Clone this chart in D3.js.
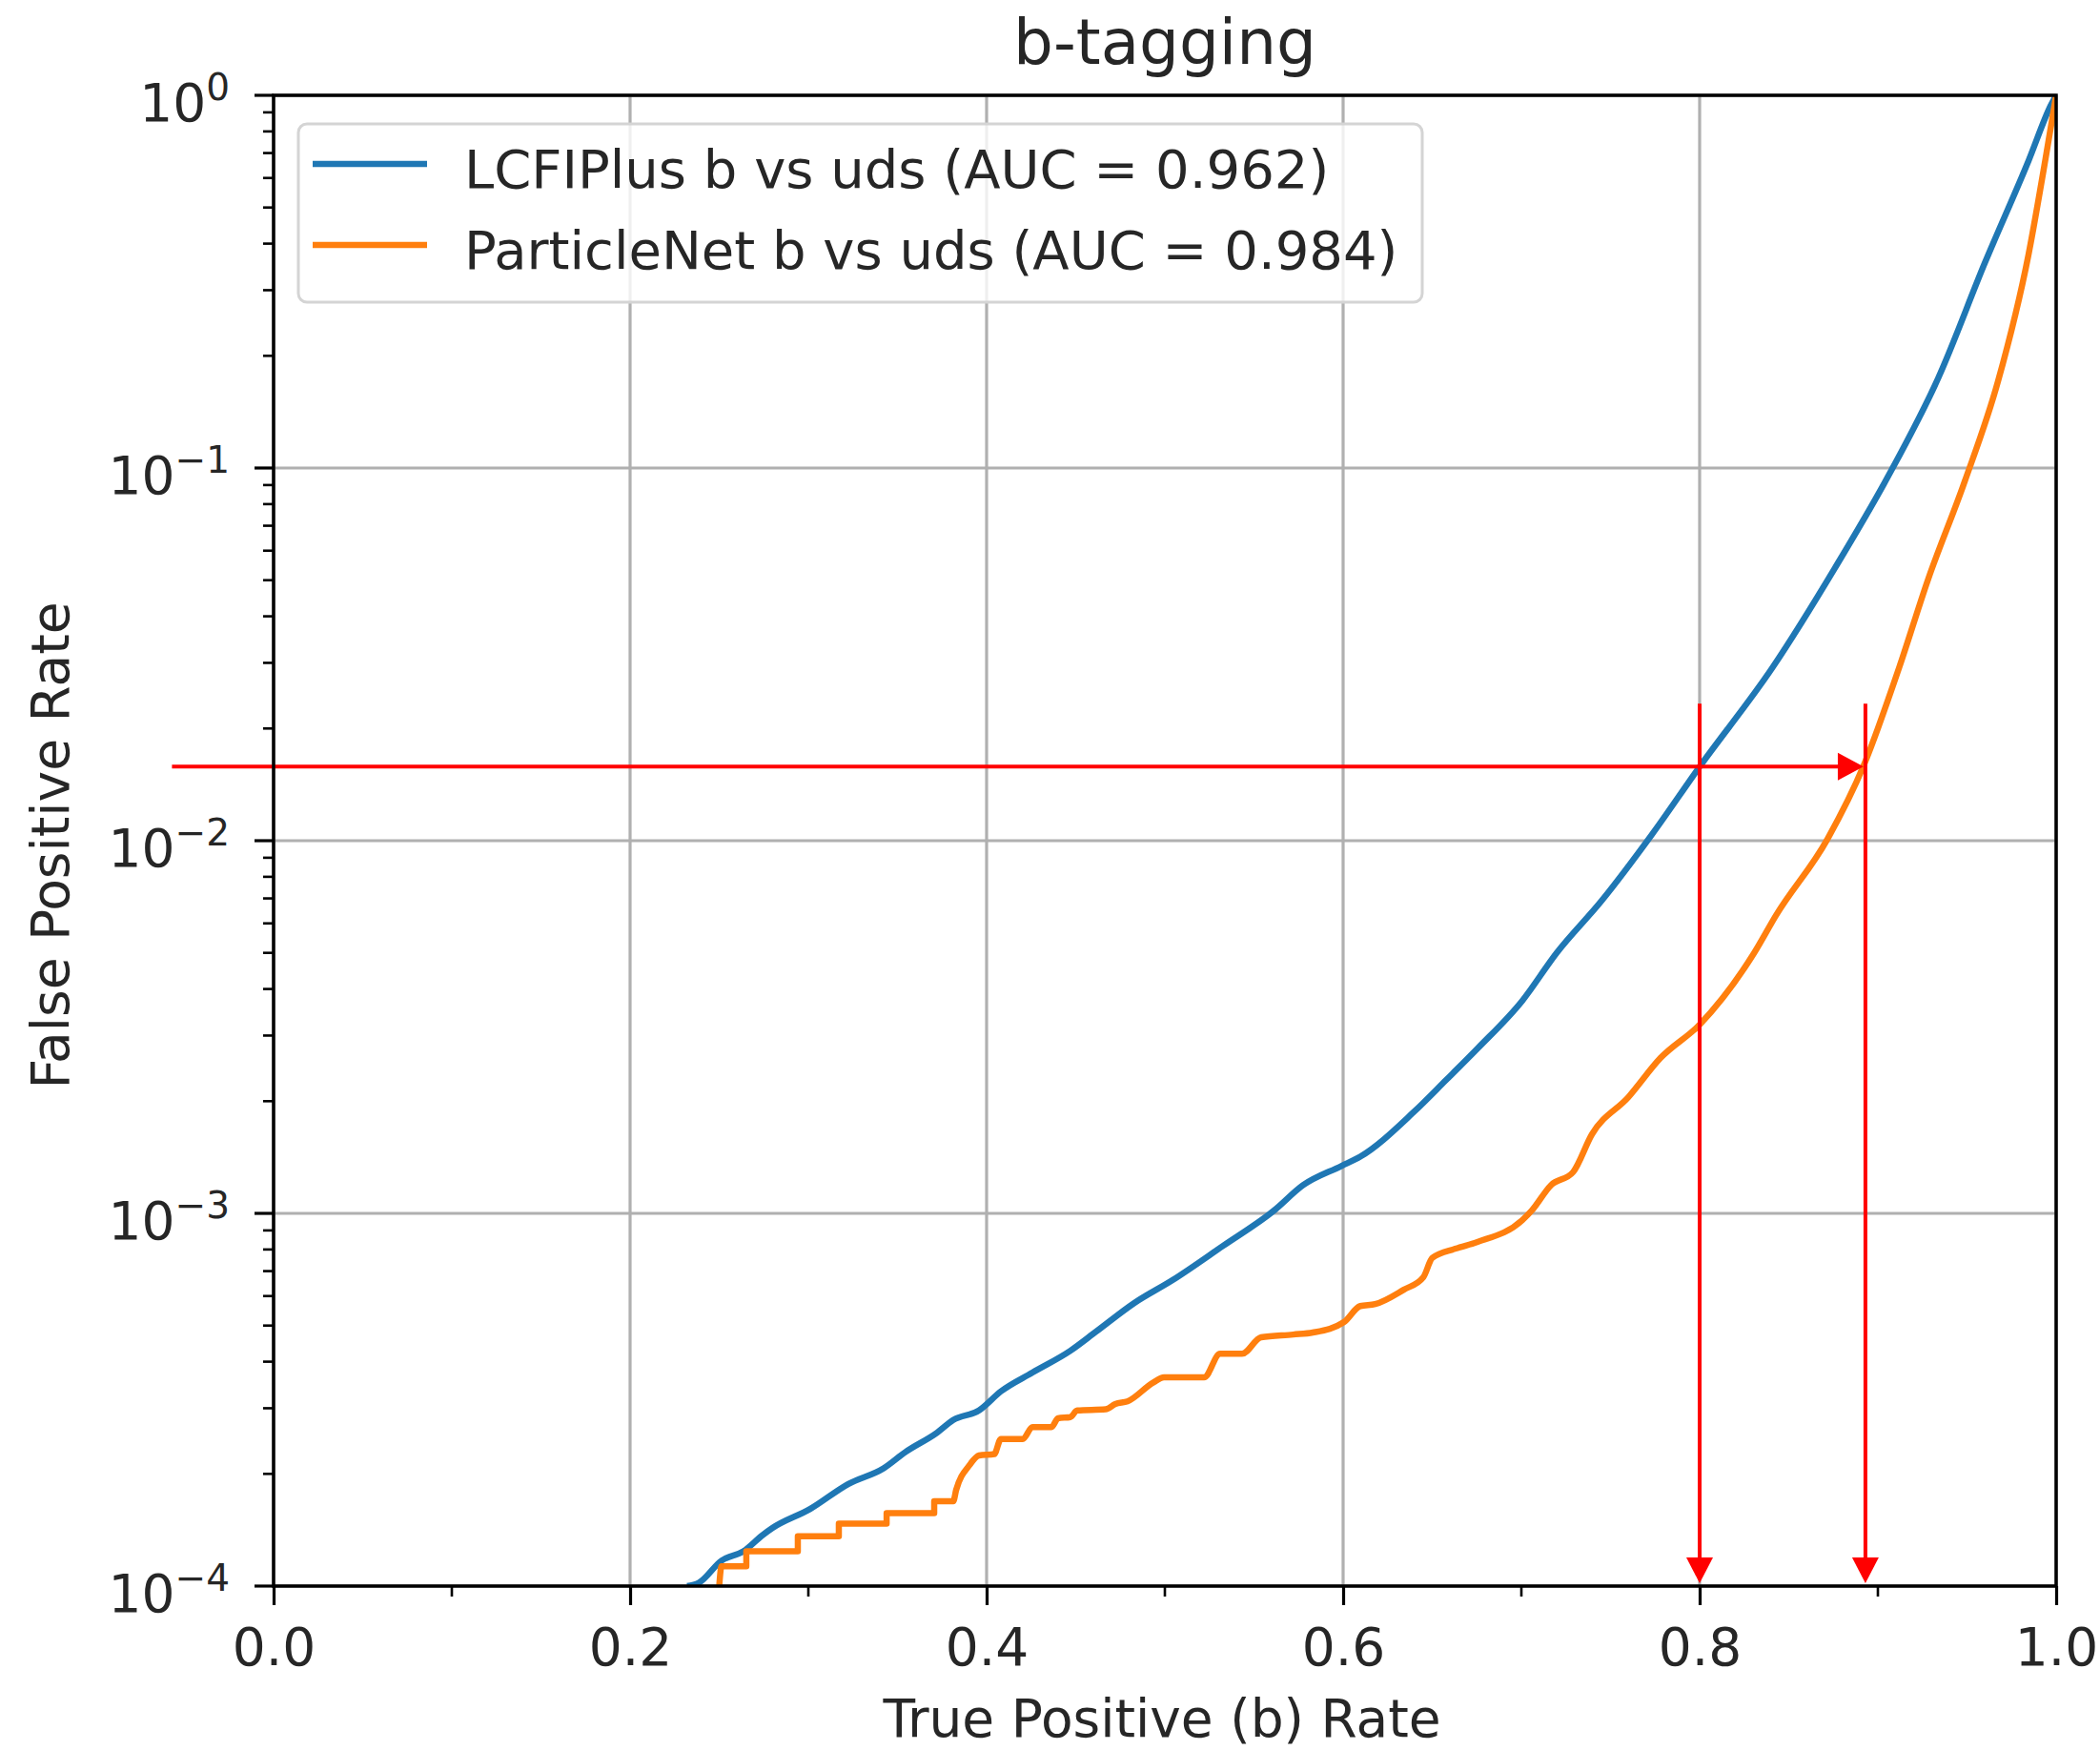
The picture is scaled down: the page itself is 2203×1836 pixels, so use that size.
<!DOCTYPE html>
<html>
<head>
<meta charset="utf-8">
<script src="https://cdn.jsdelivr.net/npm/d3@7"></script>
<style>
  html, body { margin: 0; padding: 0; background: #ffffff; }
  svg { display: block; }
  text { font-family: "DejaVu Sans", sans-serif; fill: #262626; }
</style>
</head>
<body>
<svg id="chart" width="2203" height="1836"></svg>
<script>
// ROC curves: true positive (b) rate vs. false positive rate
const tprLCFI = [0.232, 0.2385, 0.2513, 0.2636, 0.2743, 0.2797, 0.301, 0.3225, 0.3422, 0.3545,
  0.3722, 0.3813, 0.3957, 0.408, 0.4257, 0.447, 0.4615, 0.4829, 0.5043, 0.5326,
  0.5615, 0.5775, 0.599, 0.6096, 0.6396, 0.6578, 0.6754, 0.7005, 0.7198, 0.745,
  0.7733, 0.8, 0.841, 0.876, 0.906, 0.934, 0.960, 0.9845, 0.997, 1.0];
const fprLCFI = [1.0e-4, 1.02e-4, 1.17e-4, 1.24e-4, 1.37e-4, 1.43e-4, 1.61e-4, 1.88e-4, 2.07e-4, 2.29e-4,
  2.58e-4, 2.79e-4, 2.96e-4, 3.33e-4, 3.74e-4, 4.28e-4, 4.82e-4, 5.75e-4, 6.62e-4, 8.18e-4,
  1.02e-3, 1.19e-3, 1.34e-3, 1.42e-3, 1.87e-3, 2.28e-3, 2.77e-3, 3.72e-3, 5.0e-3, 6.9e-3,
  1.04e-2, 1.58e-2, 2.92e-2, 5.4e-2, 9.55e-2, 0.175, 0.355, 0.667, 0.94, 1.0];

const tprPNet = [0.250, 0.2513, 0.2652, 0.2652, 0.2941, 0.2941, 0.3171, 0.3171, 0.3439, 0.3439,
  0.3706, 0.3706, 0.3813, 0.3829, 0.3904, 0.3957, 0.4043, 0.408, 0.4203, 0.4257,
  0.4364, 0.4401, 0.447, 0.4508, 0.4668, 0.4722, 0.479, 0.4936, 0.4995, 0.522,
  0.531, 0.5433, 0.554, 0.572, 0.583, 0.6005, 0.6096, 0.618, 0.634, 0.645,
  0.650, 0.663, 0.675, 0.7005, 0.706, 0.7166, 0.729, 0.7396, 0.76, 0.778,
  0.8, 0.8305, 0.843, 0.8717, 0.892, 0.912, 0.928, 0.9487, 0.9674, 0.9845,
  0.994, 1.0];
const fprPNet = [1.0e-4, 1.13e-4, 1.13e-4, 1.24e-4, 1.24e-4, 1.36e-4, 1.36e-4, 1.47e-4, 1.47e-4, 1.57e-4,
  1.57e-4, 1.69e-4, 1.69e-4, 1.81e-4, 2.11e-4, 2.24e-4, 2.26e-4, 2.48e-4, 2.48e-4, 2.67e-4,
  2.67e-4, 2.82e-4, 2.84e-4, 2.96e-4, 2.98e-4, 3.08e-4, 3.13e-4, 3.52e-4, 3.63e-4, 3.63e-4,
  4.2e-4, 4.2e-4, 4.65e-4, 4.73e-4, 4.79e-4, 5.11e-4, 5.64e-4, 5.71e-4, 6.24e-4, 6.74e-4,
  7.59e-4, 8.04e-4, 8.37e-4, 9.59e-4, 1.02e-3, 1.19e-3, 1.29e-3, 1.63e-3, 2.05e-3, 2.61e-3,
  3.21e-3, 4.99e-3, 6.32e-3, 1.01e-2, 1.59e-2, 2.92e-2, 5.0e-2, 0.092, 0.171, 0.374,
  0.674, 1.0];

const seriesNames = ["LCFIPlus b vs uds (AUC = 0.962)", "ParticleNet b vs uds (AUC = 0.984)"];
const seriesColors = ["#1f77b4", "#ff7f0e"];

const xTickValues = [0.0, 0.2, 0.4, 0.6, 0.8, 1.0];
const xTickLabels = ["0.0", "0.2", "0.4", "0.6", "0.8", "1.0"];
const xMinorTicks = [0.1, 0.3, 0.5, 0.7, 0.9];
const yTickExponents = [0, -1, -2, -3, -4];

// working point: equal mistag rate, LCFIPlus at 80% efficiency
const workingFPR = 0.0158;
const workingTPR = [0.8, 0.893];
const arrowTopFPR = 0.0233;
const arrowStartTPR = -0.057;

const titleText = "b-tagging";
const xLabel = "True Positive (b) Rate";
const yLabel = "False Positive Rate";

// ---- layout ----
const plotL = 287, plotR = 2157, plotT = 100, plotB = 1664;
const svg = d3.select("#chart");

const x = d3.scaleLinear().domain([0, 1]).range([plotL, plotR]);
const y = d3.scaleLog().domain([1e-4, 1]).range([plotB, plotT]);

svg.append("defs").append("clipPath").attr("id", "plotClip")
  .append("rect").attr("x", plotL).attr("y", plotT)
  .attr("width", plotR - plotL).attr("height", plotB - plotT);

// grid
const grid = svg.append("g").attr("stroke", "#b0b0b0").attr("stroke-width", 3.2);
grid.selectAll("line.gx").data(xTickValues).join("line")
  .attr("x1", d => x(d)).attr("x2", d => x(d)).attr("y1", plotT).attr("y2", plotB);
grid.selectAll("line.gy").data(yTickExponents).join("line")
  .attr("y1", d => y(Math.pow(10, d))).attr("y2", d => y(Math.pow(10, d)))
  .attr("x1", plotL).attr("x2", plotR);

// curves
const line = d3.line().x(d => x(d[0])).y(d => y(d[1])).curve(d3.curveMonotoneX);
const series = [
  d3.zip(tprLCFI, fprLCFI),
  d3.zip(tprPNet, fprPNet)
];
const curves = svg.append("g").attr("clip-path", "url(#plotClip)");
series.forEach((pts, i) => {
  curves.append("path").datum(pts)
    .attr("d", line)
    .attr("fill", "none")
    .attr("stroke", seriesColors[i])
    .attr("stroke-width", 6.5)
    .attr("stroke-linejoin", "round");
});

// annotation arrows
const red = "#ff0000";
const ann = svg.append("g");
function arrowHead(tipX, tipY, dir, len, half) {
  let pts;
  if (dir === "down") pts = [[tipX, tipY], [tipX - half, tipY - len], [tipX + half, tipY - len]];
  else pts = [[tipX, tipY], [tipX - len, tipY - half], [tipX - len, tipY + half]];
  ann.append("path").attr("d", "M" + pts.map(p => p.join(",")).join("L") + "Z").attr("fill", red);
}
// horizontal arrow at the working-point mistag rate
const hy = y(workingFPR);
const hTip = x(workingTPR[1]) - 2;
ann.append("line").attr("x1", x(arrowStartTPR)).attr("x2", hTip - 26)
  .attr("y1", hy).attr("y2", hy).attr("stroke", red).attr("stroke-width", 4);
arrowHead(hTip, hy, "right", 27, 14.5);
// vertical arrows down to the efficiency axis
workingTPR.forEach(t => {
  const vx = x(t);
  const tipY = y(1e-4) - 3;
  ann.append("line").attr("x1", vx).attr("x2", vx)
    .attr("y1", y(arrowTopFPR)).attr("y2", tipY - 26)
    .attr("stroke", red).attr("stroke-width", 4);
  arrowHead(vx, tipY, "down", 27, 14);
});

// legend
const lg = svg.append("g");
lg.append("rect").attr("x", 313).attr("y", 130).attr("width", 1179).attr("height", 187)
  .attr("rx", 9).attr("ry", 9)
  .attr("fill", "#ffffff").attr("fill-opacity", 0.8)
  .attr("stroke", "#d4d4d4").attr("stroke-width", 3);
seriesNames.forEach((name, i) => {
  const ly = 172 + i * 85;
  lg.append("line").attr("x1", 328).attr("x2", 448).attr("y1", ly).attr("y2", ly)
    .attr("stroke", seriesColors[i]).attr("stroke-width", 6.5);
  lg.append("text").attr("x", 487).attr("y", ly + 25)
    .attr("font-size", 56).text(name);
});

// axes frame
svg.append("rect").attr("x", plotL).attr("y", plotT)
  .attr("width", plotR - plotL).attr("height", plotB - plotT)
  .attr("fill", "none").attr("stroke", "#000000").attr("stroke-width", 3.5);

// x axis ticks and labels
const xAxis = d3.axisBottom(x).tickValues(xTickValues)
  .tickFormat((d, i) => xTickLabels[i]).tickSize(20).tickPadding(14);
const gx = svg.append("g").attr("transform", `translate(0,${plotB})`).call(xAxis);
gx.select(".domain").remove();
gx.selectAll(".tick line").attr("stroke", "#000").attr("stroke-width", 3.2);
gx.selectAll(".tick text").attr("font-size", 55).attr("fill", "#262626")
  .attr("font-family", "DejaVu Sans").attr("dy", null).attr("y", 83);

const gxm = svg.append("g");
gxm.selectAll("line").data(xMinorTicks).join("line")
  .attr("x1", d => x(d)).attr("x2", d => x(d)).attr("y1", plotB).attr("y2", plotB + 11)
  .attr("stroke", "#000").attr("stroke-width", 2.6);

// y axis ticks (decades) and minor ticks
const gy = svg.append("g");
gy.selectAll("line.major").data(yTickExponents).join("line")
  .attr("x1", plotL - 20).attr("x2", plotL)
  .attr("y1", d => y(Math.pow(10, d))).attr("y2", d => y(Math.pow(10, d)))
  .attr("stroke", "#000").attr("stroke-width", 3.2);
const minorVals = [];
for (let e = -4; e < 0; e++) for (let m = 2; m <= 9; m++) minorVals.push(m * Math.pow(10, e));
gy.selectAll("line.minor").data(minorVals).join("line")
  .attr("x1", plotL - 11).attr("x2", plotL)
  .attr("y1", d => y(d)).attr("y2", d => y(d))
  .attr("stroke", "#000").attr("stroke-width", 2.6);

yTickExponents.forEach(e => {
  const t = gy.append("text").attr("x", 241).attr("y", y(Math.pow(10, e)) + 27)
    .attr("text-anchor", "end").attr("font-size", 55);
  t.append("tspan").text("10");
  t.append("tspan").attr("font-size", 39).attr("dy", -22)
    .text(e === 0 ? "0" : "\u2212" + Math.abs(e));
});

// title and axis labels
svg.append("text").attr("x", (plotL + plotR) / 2).attr("y", 67)
  .attr("text-anchor", "middle").attr("font-size", 66).text(titleText);
svg.append("text").attr("x", 1219).attr("y", 1822)
  .attr("text-anchor", "middle").attr("font-size", 55).text(xLabel);
svg.append("text").attr("transform", "translate(72,887) rotate(-90)")
  .attr("text-anchor", "middle").attr("font-size", 55).text(yLabel);
</script>
</body>
</html>
